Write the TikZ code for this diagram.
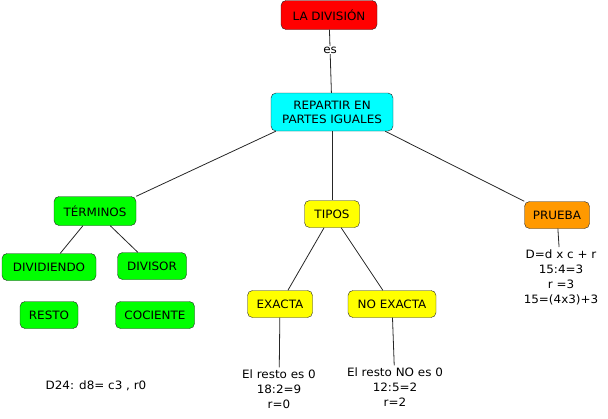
\documentclass[tikz,border=0pt]{standalone}
\usepackage{fontspec}
\setmainfont[FakeStretch=1.04]{DejaVu Sans}
\usepackage{tikz}
\usetikzlibrary{positioning}
\definecolor{mapred}{HTML}{FF0000}
\definecolor{mapcyan}{HTML}{00FFFF}
\definecolor{mapgreen}{HTML}{00FF00}
\definecolor{mapyellow}{HTML}{FFFF00}
\definecolor{maporange}{HTML}{FF9900}
\tikzstyle{concept} = [draw=black!85, rounded corners=5pt, inner xsep=6pt, inner ysep=0pt, minimum height=27pt, align=center, font=\fontsize{11.5}{14}\selectfont]
\tikzstyle{note}    = [inner sep=2pt, align=center, font=\fontsize{11.5}{15}\selectfont]
\tikzstyle{link}    = [draw=black!85, line width=0.8pt]

\begin{document}
\begin{tikzpicture}[x=1pt,y=-1pt]
		\useasboundingbox (0,0) rectangle (608,418);

		\node[concept, fill=mapred, minimum width=96pt, minimum height=29pt] (div) at (329,15) {LA DIVISIÓN};
		\node[concept, fill=mapcyan, minimum width=122pt, minimum height=38pt] (rep) at (332,112) {REPARTIR EN\\PARTES IGUALES};

		\node[concept, fill=mapgreen, minimum width=82pt, minimum height=29pt] (ter) at (95,211) {TÉRMINOS};
		\node[concept, fill=mapyellow, minimum width=55pt] (tip) at (332,214) {TIPOS};
		\node[concept, fill=maporange, minimum width=65pt] (pru) at (557,215) {PRUEBA};

		\node[concept, fill=mapgreen, minimum width=94pt] (dvd) at (49,267) {DIVIDIENDO};
		\node[concept, fill=mapgreen, minimum width=69pt] (dvs) at (152,266) {DIVISOR};
		\node[concept, fill=mapgreen, minimum width=58pt] (res) at (49,315) {RESTO};
		\node[concept, fill=mapgreen, minimum width=79pt] (coc) at (155,315) {COCIENTE};

		\node[concept, fill=mapyellow, minimum width=65pt] (exa) at (280,304) {EXACTA};
		\node[concept, fill=mapyellow, minimum width=88pt] (nex) at (392,304) {NO EXACTA};

		\node[note] (exatxt) at (279,389) {El resto es 0\\18:2=9\\r=0};
		\node[note] (nextxt) at (395,387) {El resto NO es 0\\12:5=2\\r=2};
		\node[note] (prutxt) at (561,277) {D=d x c + r\\15:4=3\\r =3\\15=(4x3)+3};
		\node[note] (ejem) at (96,386) {D24: d8= c3 , r0};

		\draw[link] (div) -- node[pos=0.32, fill=white, inner sep=1pt, font=\fontsize{11.5}{12}\selectfont] {es} (rep);
		\draw[link] (rep.south west) ++(5,0) -- (ter.north east);
		\draw[link] (rep) -- (tip);
		\draw[link] (rep.south east) ++(-8,0) -- (pru.north west);

		\draw[link] (ter) -- (dvd);
		\draw[link] (ter) -- (dvs);
		\draw[link] (tip) -- (exa);
		\draw[link] (tip) -- (nex);

		\draw[link] (exa) -- (exatxt);
		\draw[link] (nex) -- (nextxt);
		\draw[link] (pru) -- (prutxt);
	\end{tikzpicture}
\end{document}
